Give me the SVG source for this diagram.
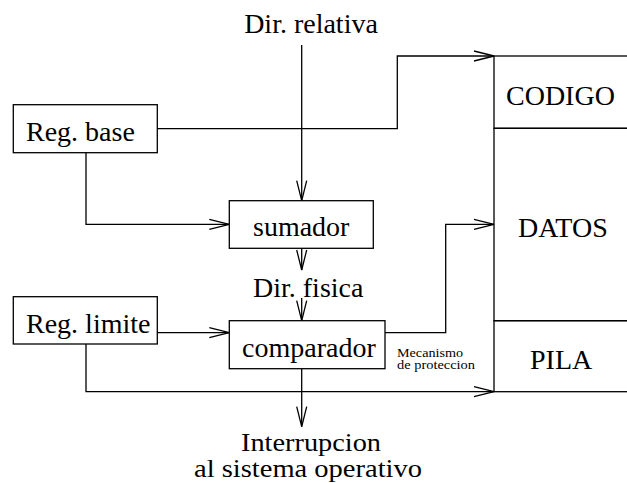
<svg xmlns="http://www.w3.org/2000/svg" width="627" height="483" viewBox="0 0 627 483">
<style>
  .box { fill: #fff; stroke: #000; stroke-width: 1.3; }
  .seg { fill: none; stroke: #000; stroke-width: 1.3; }
  .conn { fill: none; stroke: #000; stroke-width: 1.3; marker-end: url(#arr); }
  text { font-family: "Liberation Serif", "Times New Roman", serif; font-size: 28px; fill: #000; }
  .small { font-size: 11.5px; }
  .low { font-size: 25px; }
  .mid { text-anchor: middle; }
</style>
<defs>
  <marker id="arr" markerUnits="userSpaceOnUse" markerWidth="22" markerHeight="12" refX="20" refY="5" orient="auto" viewBox="-1 -1 22 12">
    <path d="M0,0 L20,5 L0,10" fill="none" stroke="#000" stroke-width="1.3"/>
  </marker>
</defs>
<rect width="627" height="483" fill="#fff"/>

<g id="connectors">
  <path class="conn" d="M301.7,45 V200.7"/>
  <path class="conn" d="M157.3,128.7 H397.3 V56 H494"/>
  <path class="conn" d="M86,152.7 V224.3 H229.3"/>
  <path class="conn" d="M301.7,248.3 V270"/>
  <path class="conn" d="M301.7,298 V320.7"/>
  <path class="conn" d="M157.3,332.7 H229.3"/>
  <path class="conn" d="M86,344 V391.7 H494"/>
  <path class="conn" d="M385,332.7 H445.7 V224.3 H494"/>
  <path class="conn" d="M301.7,368.7 V426.7"/>
</g>

<g id="dir-relativa">
  <text x="311" y="33" class="mid">Dir. relativa</text>
</g>

<g id="reg-base">
  <rect class="box" x="13.3" y="104.7" width="144" height="48"/>
  <text x="26" y="141">Reg. base</text>
</g>

<g id="sumador">
  <rect class="box" x="229.3" y="200.7" width="144" height="47.6"/>
  <text x="253" y="236">sumador</text>
</g>

<g id="dir-fisica">
  <text x="253" y="297">Dir. fisica</text>
</g>

<g id="reg-limite">
  <rect class="box" x="13.3" y="296.7" width="144" height="47.3"/>
  <text x="26" y="333">Reg. limite</text>
</g>

<g id="comparador">
  <rect class="box" x="229.3" y="320.7" width="155.7" height="48"/>
  <text x="242" y="357">comparador</text>
</g>

<g id="mecanismo">
  <text class="small" x="397" y="356.5" textLength="66" lengthAdjust="spacingAndGlyphs">Mecanismo</text>
  <text class="small" x="397" y="368.5" textLength="78" lengthAdjust="spacingAndGlyphs">de proteccion</text>
</g>

<g id="interrupcion">
  <text x="311" y="451" class="mid low" textLength="140" lengthAdjust="spacingAndGlyphs">Interrupcion</text>
  <text x="308" y="477" class="mid low" textLength="228" lengthAdjust="spacingAndGlyphs">al sistema operativo</text>
</g>

<g id="codigo">
  <rect class="seg" x="494" y="56" width="150" height="72.3"/>
  <text x="506" y="105">CODIGO</text>
</g>

<g id="datos">
  <rect class="seg" x="494" y="128.3" width="150" height="192.4"/>
  <text x="518" y="237">DATOS</text>
</g>

<g id="pila">
  <rect class="seg" x="494" y="320.7" width="150" height="71"/>
  <text x="530" y="369">PILA</text>
</g>
</svg>
